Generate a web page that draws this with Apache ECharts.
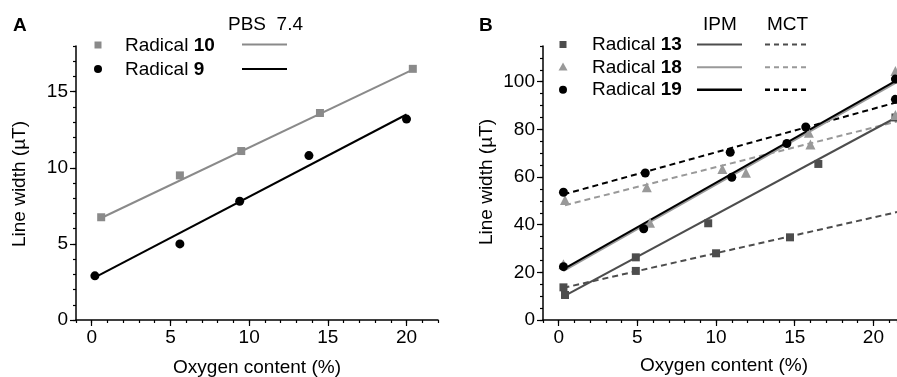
<!DOCTYPE html>
<html>
<head>
<meta charset="utf-8">
<script src="https://cdn.jsdelivr.net/npm/echarts@6/dist/echarts.min.js"></script>
<style>
  html, body { margin: 0; padding: 0; background: #fff; }
  #chart { width: 897px; height: 377px; }
</style>
</head>
<body>
<div id="chart"></div>
<script>
// ---- panel A: PBS 7.4 ----
var r10X = [0.6, 5.6, 9.5, 14.5, 20.4];
var r10Y = [6.75, 9.5, 11.1, 13.6, 16.5];
var r9X = [0.2, 5.6, 9.4, 13.8, 20.0];
var r9Y = [2.9, 5.0, 7.8, 10.8, 13.2];
var r10Fit = [[0.6, 6.7], [20.5, 16.5]];
var r9Fit = [[0.2, 2.8], [20.0, 13.5]];

// ---- panel B: IPM / MCT ----
var r13IpmX = [0.4, 4.9, 9.5, 16.5, 21.4];
var r13IpmY = [10.5, 26.3, 40.6, 65.5, 85.0];
var r13MctX = [0.3, 4.9, 10.0, 14.7];
var r13MctY = [13.7, 20.6, 28.0, 34.7];
var r18IpmX = [0.3, 5.8, 11.9, 15.9, 21.4];
var r18IpmY = [23.4, 40.8, 61.8, 78.6, 104.5];
var r18MctX = [0.4, 5.6, 10.4, 16.0, 21.4];
var r18MctY = [50.4, 55.7, 63.4, 73.7, 86.0];
var r19IpmX = [0.3, 5.4, 11.0, 14.5, 21.4];
var r19IpmY = [22.4, 38.3, 59.9, 74.1, 101.1];
var r19MctX = [0.3, 5.5, 10.9, 15.7, 21.4];
var r19MctY = [53.6, 61.7, 70.4, 81.0, 92.6];

var r13IpmFit = [[0.4, 10.2], [21.5, 85.2]];
var r13MctFit = [[0.3, 13.5], [21.5, 45.3]];
var r18IpmFit = [[0.3, 20.7], [21.5, 100.0]];
var r18MctFit = [[0.4, 48.2], [21.5, 83.3]];
var r19IpmFit = [[0.3, 21.4], [21.5, 100.7]];
var r19MctFit = [[0.3, 52.7], [21.5, 91.4]];

var xLabelsA = [0, 5, 10, 15, 20];
var yLabelsA = [0, 5, 10, 15];
var xLabelsB = [0, 5, 10, 15, 20];
var yLabelsB = [0, 20, 40, 60, 80, 100];

var FONT = 'Liberation Sans, Arial, sans-serif';
var grayA = '#8a8a8a';
var dark13 = '#4d4d4d';
var gray18 = '#999999';

function pts(xs, ys) {
    return xs.map(function (x, i) { return [x, ys[i]]; });
}

// main axis: short ticks every step, labels at chosen values
function mainAxis(grid, pos, min, max, step, labels) {
    return {
        type: 'value', gridIndex: grid, position: pos, min: min, max: max, interval: step,
        axisLine: { show: true, onZero: false, lineStyle: { color: '#000', width: 1.5 } },
        axisTick: { show: true, length: 3, lineStyle: { color: '#000', width: 1.2 } },
        axisLabel: { customValues: labels, color: '#000', fontSize: 19, fontFamily: FONT, margin: 8 },
        splitLine: { show: false }
    };
}
// overlay axis on the same side: only the longer major ticks
function majorTicks(grid, pos, min, max, labels) {
    return {
        type: 'value', gridIndex: grid, position: pos, min: min, max: max,
        axisLine: { show: false, onZero: false },
        axisTick: { show: true, customValues: labels, length: 6, lineStyle: { color: '#000', width: 1.2 } },
        axisLabel: { show: false },
        splitLine: { show: false }
    };
}

function fitLine(data, xi, yi, color, width, dashed) {
    return {
        type: 'line', xAxisIndex: xi, yAxisIndex: yi, data: data,
        showSymbol: false, symbol: 'none', silent: true, z: 2,
        lineStyle: { color: color, width: width, type: dashed ? [6, 4] : 'solid' }
    };
}
function dots(data, xi, yi, symbol, size, color) {
    return {
        type: 'scatter', xAxisIndex: xi, yAxisIndex: yi, data: data,
        symbol: symbol, symbolSize: size, z: 3,
        itemStyle: { color: color, opacity: 1 }
    };
}

function txt(x, y, s, opts) {
    return {
        type: 'text', x: x, y: y, rotation: (opts && opts.rot) || 0,
        style: {
            text: s, fill: '#000', fontFamily: FONT, fontSize: (opts && opts.size) || 19,
            fontWeight: (opts && opts.bold) ? 'bold' : 'normal',
            align: (opts && opts.align) || 'left', verticalAlign: 'middle',
            rich: {
                n: { fontFamily: FONT, fontSize: 19, fill: '#000' },
                b: { fontFamily: FONT, fontSize: 19, fontWeight: 'bold', fill: '#000' }
            }
        }
    };
}
function seg(x1, x2, y, color, width, dashed) {
    return {
        type: 'line', shape: { x1: x1, y1: y, x2: x2, y2: y },
        style: { stroke: color, lineWidth: width, lineDash: dashed ? [5, 4] : null }
    };
}
function sq(cx, cy, s, color) {
    return { type: 'rect', shape: { x: cx - s / 2, y: cy - s / 2, width: s, height: s }, style: { fill: color } };
}
function dot(cx, cy, r, color) {
    return { type: 'circle', shape: { cx: cx, cy: cy, r: r }, style: { fill: color } };
}
function tri(cx, cy, s, color) {
    return {
        type: 'polygon',
        shape: { points: [[cx, cy - s / 2], [cx + s / 2, cy + s / 2 - 1], [cx - s / 2, cy + s / 2 - 1]] },
        style: { fill: color }
    };
}

var chart = echarts.init(document.getElementById('chart'));

chart.setOption({
    backgroundColor: '#fff',
    animation: false,
    grid: [
        { left: 76, top: 46, right: 459, bottom: 57 },
        { left: 543, top: 46, right: 0, bottom: 57 }
    ],
    xAxis: [
        mainAxis(0, 'bottom', -1, 22, 1, xLabelsA),
        majorTicks(0, 'bottom', -1, 22, xLabelsA),
        mainAxis(1, 'bottom', -1, 21.5, 1, xLabelsB),
        majorTicks(1, 'bottom', -1, 21.5, xLabelsB)
    ],
    yAxis: [
        mainAxis(0, 'left', 0, 18, 1, yLabelsA),
        majorTicks(0, 'left', 0, 18, yLabelsA),
        mainAxis(1, 'left', 0, 115, 5, yLabelsB),
        majorTicks(1, 'left', 0, 115, yLabelsB)
    ],
    series: [
        fitLine(r10Fit, 0, 0, grayA, 2, false),
        fitLine(r9Fit, 0, 0, '#000', 2, false),
        dots(pts(r10X, r10Y), 0, 0, 'rect', 8, grayA),
        dots(pts(r9X, r9Y), 0, 0, 'circle', 9, '#000'),

        fitLine(r13MctFit, 2, 2, dark13, 2, true),
        fitLine(r18MctFit, 2, 2, gray18, 2, true),
        fitLine(r19MctFit, 2, 2, '#000', 2, true),
        fitLine(r13IpmFit, 2, 2, dark13, 2, false),
        fitLine(r18IpmFit, 2, 2, gray18, 2.5, false),
        fitLine(r19IpmFit, 2, 2, '#000', 2, false),
        dots(pts(r13IpmX, r13IpmY), 2, 2, 'rect', 8, dark13),
        dots(pts(r13MctX, r13MctY), 2, 2, 'rect', 8, dark13),
        dots(pts(r18IpmX, r18IpmY), 2, 2, 'triangle', 10, gray18),
        dots(pts(r18MctX, r18MctY), 2, 2, 'triangle', 10, gray18),
        dots(pts(r19IpmX, r19IpmY), 2, 2, 'circle', 9, '#000'),
        dots(pts(r19MctX, r19MctY), 2, 2, 'circle', 9, '#000')
    ],
    graphic: [
        // panel letters
        txt(13, 26, 'A', { bold: true }),
        txt(479, 26, 'B', { bold: true }),
        // axis names
        txt(257, 368, 'Oxygen content (%)', { align: 'center' }),
        txt(724, 366, 'Oxygen content (%)', { align: 'center' }),
        txt(20, 184, 'Line width (\u00b5T)', { align: 'center', rot: Math.PI / 2 }),
        txt(487, 182, 'Line width (\u00b5T)', { align: 'center', rot: Math.PI / 2 }),

        // legend A
        txt(228, 25, 'PBS  7.4'),
        sq(98, 45, 7, grayA),
        txt(125, 46, '{n|Radical }{b|10}'),
        seg(242, 287, 44.5, grayA, 2, false),
        dot(98, 69, 4, '#000'),
        txt(125, 70, '{n|Radical }{b|9}'),
        seg(242, 287, 69, '#000', 2, false),

        // legend B
        txt(703, 25, 'IPM'),
        txt(767, 25, 'MCT'),
        sq(563, 44.5, 7, dark13),
        txt(592, 45, '{n|Radical }{b|13}'),
        seg(697, 742, 44.5, dark13, 2, false),
        seg(765, 808, 44.5, dark13, 2, true),
        tri(563, 67, 9, gray18),
        txt(592, 67.5, '{n|Radical }{b|18}'),
        seg(697, 742, 67.3, gray18, 2, false),
        seg(765, 808, 67.3, gray18, 2, true),
        dot(563, 89.7, 4, '#000'),
        txt(592, 90, '{n|Radical }{b|19}'),
        seg(697, 742, 89.7, '#000', 2.5, false),
        seg(765, 808, 89.7, '#000', 2.5, true)
    ]
});
</script>
</body>
</html>
